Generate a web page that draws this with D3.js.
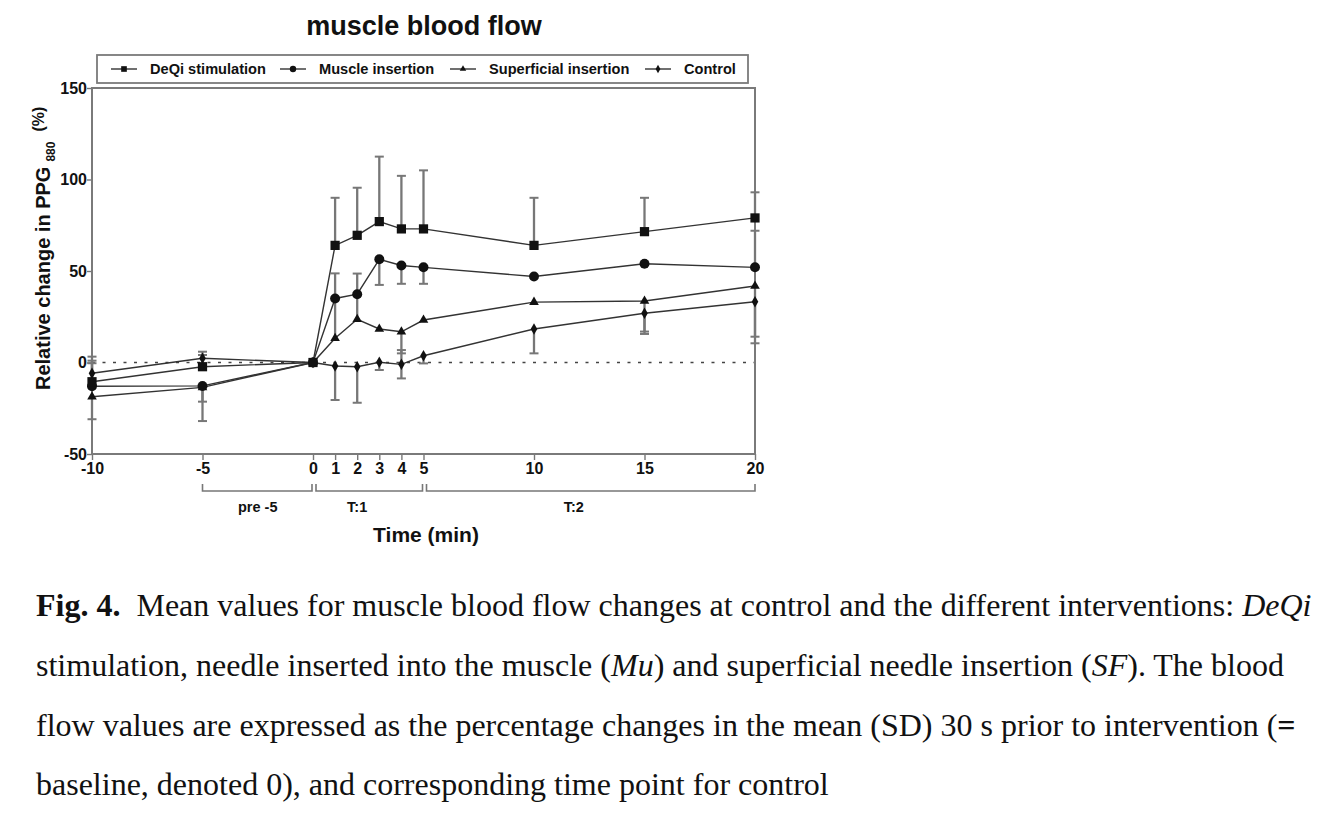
<!DOCTYPE html>
<html>
<head>
<meta charset="utf-8">
<script src="https://cdn.jsdelivr.net/npm/d3@7"></script>
<style>
  html, body { margin: 0; padding: 0; background: #fff; }
  svg { display: block; }
  .sans { font-family: "Liberation Sans", Arial, Helvetica, sans-serif; font-weight: bold; }
  .serif { font-family: "Liberation Serif", "Times New Roman", serif; }
</style>
</head>
<body>
<svg id="chart" width="1329" height="818"></svg>
<script>
// ---------------- data ----------------
const chartTitle = "muscle blood flow";
const times = [-10, -5, 0, 1, 2, 3, 4, 5, 10, 15, 20];
const xTickValues = [-10, -5, 0, 1, 2, 3, 4, 5, 10, 15, 20];
const yTickValues = [-50, 0, 50, 100, 150];
const yMinorTicks = [-25, 25, 75, 125];
const seriesNames = ["DeQi stimulation", "Muscle insertion", "Superficial insertion", "Control"];

const deqiMean = [-10.5, -2.3, 0, 64, 69.5, 77, 73, 73, 64, 71.5, 79];
const deqiUp   = [11.5, 6.4, 0, 26, 26, 35.5, 29, 32, 26, 18.5, 14];
const deqiDown = [0, 0, 0, 0, 0, 0, 0, 0, 0, 0, 0];

const muscleMean = [-13, -12.8, 0, 35, 37.3, 56.4, 53, 52, 47, 54, 52];
const muscleUp   = [12.6, 0, 0, 0, 0, 0, 0, 0, 0, 0, 20];
const muscleDown = [0, 19.2, 0, 0, 0, 14, 10, 9, 0, 0, 0];

const superficialMean = [-18.7, -13.6, 0, 13.2, 23.6, 18.3, 16.8, 23.2, 33, 33.6, 41.8];
const superficialUp   = [0, 0, 0, 35.5, 25, 0, 0, 0, 0, 0, 0];
const superficialDown = [12.3, 7.8, 0, 0, 0, 0, 11.8, 0, 0, 18, 27.7];

const controlMean = [-5.9, 2.3, 0, -1.9, -2.3, 0.1, -1, 3.7, 18.3, 26.9, 33.2];
const controlUp   = [9.1, 3.6, 0, 0, 0, 0, 7.8, 0, 0, 0, 0];
const controlDown = [0, 0, 0, 18.6, 19.7, 4.2, 7.7, 4.2, 13.3, 10, 22.7];

const bracketLabels = ["pre -5", "T:1", "T:2"];
const bracketStart = [-5, 0, 5];
const bracketEnd = [0, 5, 20];
const bracketLabelAt = [-2.5, 2, 11.8];

const yAxisLabel = "Relative change in PPG";
const yAxisSub = "880";
const yAxisUnit = "(%)";
const xAxisLabel = "Time (min)";

const captionLines = [
  [{t: "Fig. 4.", b: true}, {t: "  Mean values for muscle blood flow changes at control and the different interventions: "}, {t: "DeQi", i: true}],
  [{t: "stimulation, needle inserted into the muscle ("}, {t: "Mu", i: true}, {t: ") and superficial needle insertion ("}, {t: "SF", i: true}, {t: "). The blood"}],
  [{t: "flow values are expressed as the percentage changes in the mean (SD) 30 s prior to intervention ("}, {t: "=", b: true}],
  [{t: "baseline, denoted 0), and corresponding time point for control"}]
];

// ---------------- drawing ----------------
const svg = d3.select("#chart");
svg.append("rect").attr("width", 1329).attr("height", 818).attr("fill", "#fff");

const x = d3.scaleLinear().domain([-10, 20]).range([92, 755]);
const y = d3.scaleLinear().domain([-50, 150]).range([454, 88]);

const symbols = [d3.symbolSquare, d3.symbolCircle, d3.symbolTriangle, d3.symbolDiamond];
const symSize = [85, 78, 40, 38];
const legSymSize = [32, 32, 18, 20];

const series = [
  {name: seriesNames[0], mean: deqiMean, up: deqiUp, down: deqiDown, sym: 0},
  {name: seriesNames[1], mean: muscleMean, up: muscleUp, down: muscleDown, sym: 1},
  {name: seriesNames[2], mean: superficialMean, up: superficialUp, down: superficialDown, sym: 2},
  {name: seriesNames[3], mean: controlMean, up: controlUp, down: controlDown, sym: 3}
];

// title
svg.append("text").attr("class", "sans")
  .attr("x", 424).attr("y", 35)
  .attr("text-anchor", "middle").attr("font-size", 27).attr("fill", "#111")
  .text(chartTitle);

// dotted zero line
svg.append("line")
  .attr("x1", x(-10)).attr("x2", x(20)).attr("y1", y(0)).attr("y2", y(0))
  .attr("stroke", "#444").attr("stroke-width", 1.6).attr("stroke-dasharray", "3,7.5");

// axes
const fmt = d => String(d);
const gx = svg.append("g").attr("transform", `translate(0,${y(-50)})`);
gx.call(d3.axisBottom(x).tickValues(d3.range(-10, 21)).tickSize(5).tickFormat(""));
gx.call(d3.axisBottom(x).tickValues(xTickValues).tickSize(6).tickFormat(fmt));
gx.selectAll(".domain").remove();
gx.selectAll("line").attr("stroke", "#777").attr("stroke-width", 1.4);
gx.selectAll("text").attr("class", "sans").attr("font-size", 16).attr("fill", "#111")
  .attr("dy", "0.71em").attr("y", 9);

const gy = svg.append("g").attr("transform", `translate(${x(-10)},0)`);
gy.call(d3.axisLeft(y).tickValues(yMinorTicks).tickSize(4).tickFormat(""));
gy.call(d3.axisLeft(y).tickValues(yTickValues).tickSize(5).tickFormat(fmt));
gy.selectAll(".domain").remove();
gy.selectAll("line").attr("stroke", "#777").attr("stroke-width", 1.4);
gy.selectAll("text").attr("class", "sans").attr("font-size", 16).attr("fill", "#111").attr("x", -5);

// frame
svg.append("rect")
  .attr("x", x(-10)).attr("y", y(150)).attr("width", x(20) - x(-10)).attr("height", y(-50) - y(150))
  .attr("fill", "none").attr("stroke", "#7a7a7a").attr("stroke-width", 2);

// error bars
const capW = 4.5;
const errG = svg.append("g").attr("stroke", "#777").attr("stroke-width", 2.3).attr("fill", "none");
series.forEach(s => {
  times.forEach((t, i) => {
    const m = s.mean[i];
    [[s.up[i], 1], [s.down[i], -1]].forEach(([e, dir]) => {
      if (!e) return;
      const v = m + dir * e;
      errG.append("line").attr("x1", x(t)).attr("x2", x(t)).attr("y1", y(m)).attr("y2", y(v));
      errG.append("line").attr("x1", x(t) - capW).attr("x2", x(t) + capW).attr("y1", y(v)).attr("y2", y(v))
        .attr("stroke-width", 2);
    });
  });
});

// lines
const line = d3.line().x((d, i) => x(times[i])).y(d => y(d));
const drawOrder = [3, 2, 1, 0];
drawOrder.forEach(k => {
  svg.append("path").datum(series[k].mean).attr("d", line)
    .attr("fill", "none").attr("stroke", "#333").attr("stroke-width", 1.4);
});
drawOrder.forEach(k => {
  const s = series[k];
  svg.append("g").selectAll("path").data(s.mean).join("path")
    .attr("transform", (d, i) => `translate(${x(times[i])},${y(d)})`)
    .attr("d", d3.symbol().type(symbols[s.sym]).size(symSize[s.sym]))
    .attr("fill", "#111");
});

// legend
const legX = [111, 280, 450, 645];
const legG = svg.append("g");
legG.append("rect").attr("x", 97).attr("y", 55).attr("width", 651).attr("height", 28)
  .attr("fill", "#fff").attr("stroke", "#7a7a7a").attr("stroke-width", 1.8);
series.forEach((s, k) => {
  const lx = legX[k];
  legG.append("line").attr("x1", lx).attr("x2", lx + 26).attr("y1", 69).attr("y2", 69)
    .attr("stroke", "#333").attr("stroke-width", 1.4);
  legG.append("path").attr("transform", `translate(${lx + 13},69)`)
    .attr("d", d3.symbol().type(symbols[s.sym]).size(legSymSize[s.sym])).attr("fill", "#111");
  legG.append("text").attr("class", "sans").attr("x", lx + 39).attr("y", 74)
    .attr("font-size", 14.6).attr("fill", "#111").text(s.name);
});

// y axis label (rotated)
const yl = svg.append("text").attr("class", "sans").attr("fill", "#111")
  .attr("transform", `translate(50,390) rotate(-90)`)
  .attr("text-anchor", "start").attr("font-size", 20);
yl.append("tspan").text(yAxisLabel);
yl.append("tspan").attr("font-size", 12).attr("dy", 5).attr("dx", 5).text(yAxisSub);
yl.append("tspan").attr("font-size", 16).attr("dy", -11).attr("dx", 10).text(yAxisUnit);

// brackets
const brG = svg.append("g");
bracketLabels.forEach((lab, i) => {
  const x0 = x(bracketStart[i]) + (i > 0 ? 3 : 0);
  const x1 = x(bracketEnd[i]) - (i < 2 ? 1 : 0);
  brG.append("path")
    .attr("d", `M${x0},484 V491 H${x1} V484`)
    .attr("fill", "none").attr("stroke", "#777").attr("stroke-width", 1.6);
  brG.append("text").attr("class", "sans").attr("x", x(bracketLabelAt[i]))
    .attr("y", 512).attr("text-anchor", "middle").attr("font-size", 14.5).attr("fill", "#111").text(lab);
});

// x axis label
svg.append("text").attr("class", "sans").attr("x", 426).attr("y", 542)
  .attr("text-anchor", "middle").attr("font-size", 21).attr("fill", "#111").text(xAxisLabel);

// caption
const capBase = [616, 676, 736, 795];
captionLines.forEach((segs, li) => {
  const t = svg.append("text").attr("class", "serif").attr("x", 36).attr("y", capBase[li])
    .attr("font-size", 32).attr("fill", "#111").style("white-space", "pre");
  segs.forEach(sg => {
    t.append("tspan").attr("font-weight", sg.b ? "bold" : "normal")
      .attr("font-style", sg.i ? "italic" : "normal").text(sg.t);
  });
});
</script>
</body>
</html>
